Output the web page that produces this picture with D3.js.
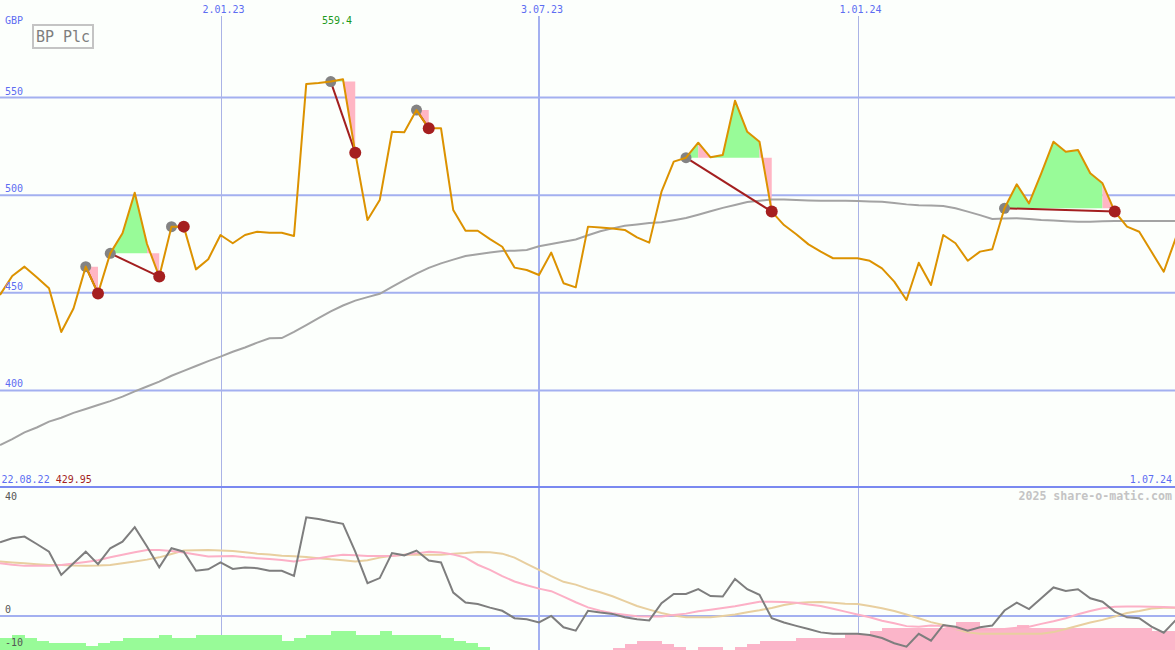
<!DOCTYPE html>
<html><head><meta charset="utf-8">
<script src="https://cdn.jsdelivr.net/npm/d3@7"></script>
<style>html,body{margin:0;padding:0;background:#fcfffc;overflow:hidden}</style>
</head><body><svg id="c" width="1175" height="650"></svg>
<script>
// ---------- DATA ----------
const firstWeek = "2022-08-29", lastWeek = "2024-07-01";
const startLabel = "22.08.22", endLabel = "1.07.24";
const currency = "GBP", title = "BP Plc", credit = "2025 share-o-matic.com";
const maxLabel = "559.4", minLabel = "429.95";

const price = [448.9,458.6,463.4,458,452.3,429.95,442.0,463.4,449.7,470.2,
480.5,501.3,475,458.3,483.9,483.9,462.0,467.2,479.6,475.4,
479.6,481.3,480.8,480.8,479.1,557.0,557.5,558.2,559.4,521.8,
487.3,497.5,532.5,532.3,543.6,534.3,534.3,492.4,481.8,481.8,
477.5,473.6,462.9,461.7,459.1,470.6,454.9,452.8,483.9,483.5,
483.0,482.2,478.4,475.7,501.8,517.2,519.2,526.9,519.4,520.6,
548.4,532.5,527.4,491.6,484.7,480,474.8,471.1,467.7,467.7,
467.7,466.4,462.5,455.7,446.3,465.4,454.0,479.6,475.4,466.4,
471.1,472.3,493.3,505.6,495.8,511.2,527.4,522.3,523.2,511.2,
506.1,491.6,483.9,481.3,471,460.8,478.4];

const movingAvg = [372,375,378.5,381,384,386,388.5,390.5,392.5,394.5,
396.8,399.5,402,404.5,407.5,410,412.5,415,417.3,419.8,
422,424.5,426.7,426.8,430,433.5,437,440.5,443.5,446,
447.8,449.5,453,456.5,459.8,462.8,465.1,467,468.8,469.8,
470.6,471.4,471.6,471.9,473.8,475,476.2,477.3,479.5,481.5,
483,484.3,485,485.7,486.2,487.2,488.3,490,491.8,493.5,
495,496.5,497.2,497.8,497.8,497.5,497.3,497.2,497.1,497.1,
497,496.8,496.6,496,495.3,494.9,494.7,494.5,493.3,491.6,
489.8,487.8,488,488.2,487.8,487.3,487,486.7,486.4,486.4,
486.6,486.8,486.8,486.8,486.8,486.8,486.8];

const tradeEntries = [7, 9, 14, 27, 34, 56, 82];
const tradeExits   = [8, 13, 15, 29, 35, 63, 91];
const lossSegments = [7, 12, 28, 34, 57, 62, 90];

const oscillator = [25.9,27.3,27.9,25.3,22.6,14.4,18.5,22.6,18.2,23.8,
26.1,31.2,24.4,17.1,23.8,22.6,15.9,16.4,18.8,16.5,
17.0,16.8,15.9,15.9,14.1,34.7,34.1,33.2,32.4,22.6,
11.5,13.3,22.1,21.3,23.0,19.5,18.8,8.2,4.7,4.2,
2.9,1.8,-0.8,-1.2,-2.3,0,-4.0,-5.2,1.8,1.2,
0.7,-0.5,-1.2,-1.6,4.5,7.7,7.7,9.4,7.0,6.8,
13.0,9.4,7.4,-0.8,-2.3,-3.5,-4.6,-5.8,-6.3,-6.3,
-6.3,-6.7,-7.8,-9.6,-10.8,-6.3,-8.7,-3.2,-3.8,-5.2,
-4.0,-3.4,1.9,4.7,2.4,6.2,10.0,8.8,9.4,6.2,
5.0,1.5,-0.5,-0.8,-3.8,-5.9,-1.4];

const signalFast = [18.5,18.0,17.6,17.6,17.6,17.9,18.4,19.0,19.6,20.6,
21.5,22.4,23.2,23.2,22.8,22.3,21.6,20.9,21.0,21.1,
20.6,20.3,20.0,19.7,19.1,19.8,20.3,21.0,21.5,21.3,
21.1,21.1,21.1,21.5,22.0,22.6,22.3,21.6,20.5,18.0,
16.2,14.0,12.1,10.8,9.6,8.7,6.8,4.8,3.0,1.8,
0.9,0.4,-0.1,-0.2,-0.2,0.3,0.8,1.6,2.2,2.8,
3.4,4.2,5.0,5.0,4.9,4.6,4.0,3.5,2.5,1.5,
0.5,-0.5,-1.7,-2.6,-3.6,-3.8,-3.4,-3.6,-4.6,-4.9,
-4.9,-4.9,-4.6,-4.2,-3.8,-2.8,-1.9,-0.8,0.6,1.7,
2.7,3.2,3.3,3.3,3.2,3.1,2.9];

const signalSlow = [19.1,18.8,18.5,18.2,17.9,17.9,17.7,17.6,17.7,17.9,
18.5,19.1,19.8,20.6,21.8,23.0,23.1,23.2,23.0,22.8,
22.4,21.9,21.6,21.2,21.0,20.7,20.3,19.9,19.6,19.1,
19.6,20.5,21.2,21.5,21.5,21.5,21.5,21.9,22.1,22.5,
22.4,21.9,20.5,18.3,16.2,14.0,12.0,11.0,9.5,8.3,
6.9,5.2,3.5,2.2,1.0,0.1,-0.5,-0.5,-0.5,0.0,
0.5,1.3,2.0,2.8,3.8,4.5,4.8,4.9,4.6,4.3,
4.2,3.5,2.7,1.7,0.5,-0.8,-2.2,-3.2,-4.6,-5.8,
-6.3,-6.3,-6.3,-6.3,-6.3,-6.3,-5.7,-4.6,-3.5,-2.3,
-1.4,-0.2,1.0,1.7,2.6,2.9,2.9];

const histogram = [4.3,5.3,4.3,3.2,2.4,2.4,2.4,1.4,2.4,3.2,
4.3,4.3,4.3,5.3,4.3,4.3,5.3,5.3,5.3,5.3,
5.3,5.3,5.3,3.2,4.3,5.3,5.3,6.7,6.7,5.3,
5.3,6.7,5.3,5.3,5.3,5.3,4.3,3.2,2.4,1.2,
0,0,0,0,0,0,0,0,0,0,
-0.8,-2.1,-3.2,-3.2,-2.1,-1.2,0,-1.2,-1.2,0,
-1.2,-2.1,-3.2,-3.2,-3.2,-4.3,-4.3,-4.3,-4.3,-5.6,
-5.6,-6.7,-7.8,-7.8,-7.8,-7.8,-7.8,-7.8,-10,-10,
-7.8,-7.8,-7.8,-8.8,-7.8,-7.8,-7.8,-7.8,-7.8,-7.8,
-7.8,-7.8,-7.8,-7.8,-6.7,-6.7,-6.7];

const priceTicks = [550, 500, 450, 400];
const oscTicks = [40, 0, -10];
const dateTicks = ["2023-01-02", "2023-07-03", "2024-01-01"];

// ---------- CHART ----------
const W = 1175, H = 650, mainBottom = 487;
const svg = d3.select("#c");
const parse = d3.timeParse("%Y-%m-%d");
const fmt = d3.timeFormat("%-d.%m.%y");
const t0 = parse(firstWeek), t1 = parse(lastWeek);
const dates = d3.timeMonday.range(t0, d3.timeDay.offset(t1, 1));

const x = d3.scaleTime().domain([t0, t1]).range([0, 1176]);
const y = d3.scaleLinear().domain([350, 600]).range([488, 0]);
const y2 = d3.scaleLinear().domain([-12, 45]).range([650, 488]);

const font = "'DejaVu Sans Mono', monospace";
const blue = "#5d6df2", grid = "#a3b0f0";

svg.append("rect").attr("width", W).attr("height", H).attr("fill", "#fcfffc");

const defs = svg.append("defs");
defs.append("clipPath").attr("id", "cm").append("rect").attr("x", 0).attr("y", 0).attr("width", W).attr("height", mainBottom);
defs.append("clipPath").attr("id", "cb").append("rect").attr("x", 0).attr("y", 489).attr("width", W).attr("height", H - 489);

// horizontal grid
svg.append("g").selectAll("line").data(priceTicks).join("line")
  .attr("x1", 0).attr("x2", W).attr("y1", d => y(d)).attr("y2", d => y(d))
  .attr("stroke", grid).attr("stroke-width", 2);
svg.append("line").attr("x1", 0).attr("x2", W).attr("y1", y2(0)).attr("y2", y2(0))
  .attr("stroke", grid).attr("stroke-width", 2);

// vertical grid
const vt = dateTicks.map(parse);
svg.append("g").selectAll("line").data(vt).join("line")
  .attr("x1", d => d.getMonth() === 6 ? x(d) : Math.round(x(d)) + 0.5)
  .attr("x2", d => d.getMonth() === 6 ? x(d) : Math.round(x(d)) + 0.5)
  .attr("y1", 16).attr("y2", H)
  .attr("stroke", d => d.getMonth() === 6 ? grid : "#aab3e6")
  .attr("stroke-width", d => d.getMonth() === 6 ? 2 : 1);

// bottom panel
const gb = svg.append("g").attr("clip-path", "url(#cb)");
gb.selectAll("rect").data(histogram.map((v, i) => ({v, i})).filter(d => d.v !== 0)).join("rect")
  .attr("x", d => x(dates[d.i]))
  .attr("width", d => x(d3.timeWeek.offset(dates[d.i], 1)) - x(dates[d.i]) + 0.3)
  .attr("y", d => y2(-12 + Math.abs(d.v)))
  .attr("height", d => y2(-12) - y2(-12 + Math.abs(d.v)))
  .attr("fill", d => d.v > 0 ? "#98fb98" : "#fbb5c9")
  .attr("shape-rendering", "crispEdges");
const l2 = d3.line().x((d, i) => x(dates[i])).y(d => y2(d));
gb.append("path").attr("d", l2(signalSlow)).attr("fill", "none").attr("stroke", "#e8cf9f").attr("stroke-width", 2);
gb.append("path").attr("d", l2(signalFast)).attr("fill", "none").attr("stroke", "#fcb0c6").attr("stroke-width", 2);
gb.append("path").attr("d", l2(oscillator)).attr("fill", "none").attr("stroke", "#7e7e7e").attr("stroke-width", 2);

// main panel
const gm = svg.append("g").attr("clip-path", "url(#cm)");

// trade fills
tradeEntries.forEach((e, k) => {
  const ex = tradeExits[k], base = price[e];
  let runs = [];
  for (let s = e; s < ex; s++) {
    const c = lossSegments.includes(s) ? "#ffb6c4" : "#98fb98";
    if (runs.length && runs[runs.length - 1].c === c) runs[runs.length - 1].b = s + 1;
    else runs.push({a: s, b: s + 1, c});
  }
  runs.forEach(r => {
    const idx = d3.range(r.a, r.b + 1);
    if (price[r.a] === base && price[r.b] === base) return;
    const area = d3.area().x(i => x(dates[i])).y0(y(base)).y1(i => y(price[i]));
    gm.append("path").attr("d", area(idx)).attr("fill", r.c);
  });
});

const line = d3.line().x((d, i) => x(dates[i])).y(d => y(d));
gm.append("path").attr("d", line(movingAvg)).attr("fill", "none").attr("stroke", "#a3a3a3").attr("stroke-width", 2);

// trade lines
tradeEntries.forEach((e, k) => {
  const ex = tradeExits[k];
  gm.append("line").attr("x1", x(dates[e])).attr("y1", y(price[e]))
    .attr("x2", x(dates[ex])).attr("y2", y(price[ex]))
    .attr("stroke", "#a31f1f").attr("stroke-width", 2);
});
gm.selectAll("circle.en").data(tradeEntries).join("circle").attr("class", "en")
  .attr("cx", i => x(dates[i])).attr("cy", i => y(price[i])).attr("r", 5.5).attr("fill", "#838383");

gm.append("path").attr("d", line(price)).attr("fill", "none").attr("stroke", "#dc9200").attr("stroke-width", 2).attr("stroke-linejoin", "round");

gm.selectAll("circle.ex").data(tradeExits).join("circle").attr("class", "ex")
  .attr("cx", i => x(dates[i])).attr("cy", i => y(price[i])).attr("r", 6).attr("fill", "#a51f1f");

// border between panels
svg.append("line").attr("x1", 0).attr("x2", W).attr("y1", 487).attr("y2", 487)
  .attr("stroke", "#7a89f0").attr("stroke-width", 2);

// texts
const txt = (s, xx, yy, col, anchor, size, weight) => svg.append("text").text(s)
  .attr("x", xx).attr("y", yy).attr("fill", col).attr("text-anchor", anchor || "start")
  .attr("font-family", font).attr("font-size", size || 10).attr("font-weight", weight || "normal");

vt.forEach(d => txt(fmt(d), x(d) + 3, 13, blue, "middle"));
txt(currency, 5, 24, blue);
priceTicks.forEach(v => txt(String(v), 5, y(v) - 3, blue));
oscTicks.forEach(v => txt(String(v), 5, v === -10 ? 646 : y2(v) - 2.5, "#555", "start"));

const iMax = price.indexOf(d3.max(price));
txt(maxLabel, x(dates[iMax]) - 6, 24, "#1d9a1d", "middle");

svg.append("rect").attr("x", 33).attr("y", 25).attr("width", 60).attr("height", 23)
  .attr("fill", "none").attr("stroke", "#c4c4c4").attr("stroke-width", 2);
txt(title, 63, 41.5, "#7e7e7e", "middle", 15);

const st = txt(startLabel, 1.5, 483, blue);
st.append("tspan").text(" " + minLabel).attr("fill", "#a31f1f");
txt(endLabel, 1172, 483, blue, "end");
txt(credit, 1172, 500, "#c4c4c4", "end", 11.6, "bold");
</script></body></html>
